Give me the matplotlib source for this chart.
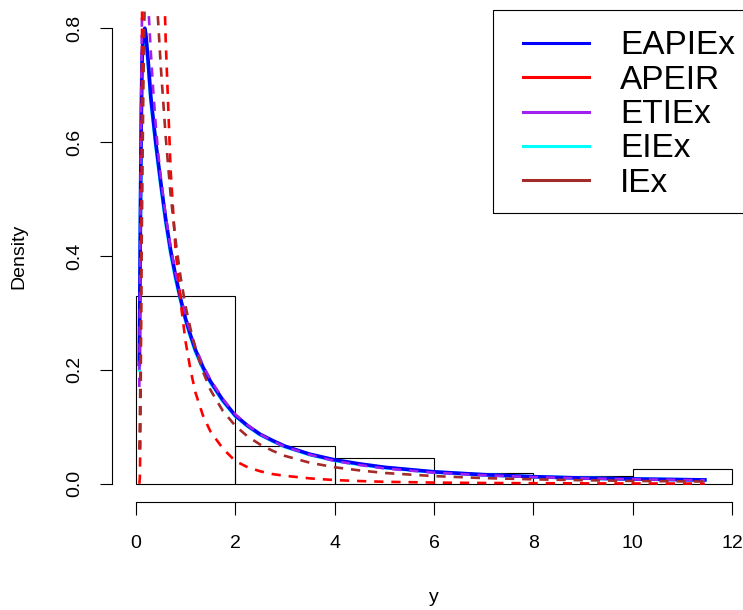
import numpy as np
import matplotlib
matplotlib.use("Agg")
import matplotlib.pyplot as plt
from matplotlib.lines import Line2D
from matplotlib.patches import Rectangle

plt.rcParams['font.family'] = ['Liberation Sans', 'DejaVu Sans']

# histogram of the sample (density scale)
bin_edges = [0, 2, 4, 6, 8, 10, 12]
bin_density = [0.329, 0.0658, 0.0461, 0.0197, 0.0132, 0.0263]

# fitted densities evaluated on a common grid
grid = [0.07, 0.08, 0.09, 0.1, 0.11, 0.12, 0.13, 0.15, 0.18, 0.2, 0.22, 0.25, 0.3,
        0.35, 0.4, 0.45, 0.5, 0.6, 0.7, 0.8, 0.9, 1.0, 1.1, 1.2, 1.35, 1.5, 1.75,
        2.0, 2.25, 2.5, 2.75, 3.0, 3.5, 4.0, 4.5, 5.0, 6.0, 7.0, 8.0, 9.0, 10.0, 11.45]
eapiex = [0.21, 0.33, 0.45, 0.56, 0.65, 0.72, 0.76, 0.79, 0.80, 0.79, 0.77, 0.74, 0.68,
          0.64, 0.60, 0.565, 0.53, 0.465, 0.41, 0.365, 0.325, 0.29, 0.261, 0.235, 0.205,
          0.18, 0.147, 0.12, 0.102, 0.087, 0.076, 0.066, 0.052, 0.042, 0.035, 0.029,
          0.021, 0.016, 0.0125, 0.010, 0.0085, 0.0068]
apeir = [0.0, 0.01, 0.07, 0.2, 0.4, 0.65, 0.95, 1.5, 2.1, 2.4, 2.55, 2.6, 2.3,
         1.95, 1.6, 1.33, 1.1, 0.78, 0.55, 0.41, 0.32, 0.25, 0.20, 0.16, 0.12,
         0.092, 0.062, 0.040, 0.029, 0.022, 0.017, 0.014, 0.0095, 0.0065, 0.0048, 0.0035,
         0.0021, 0.0014, 0.0010, 0.0007, 0.0005, 0.0004]
etiex = [0.17, 0.30, 0.44, 0.58, 0.70, 0.80, 0.86, 0.91, 0.93, 0.91, 0.88, 0.84, 0.76,
         0.69, 0.63, 0.58, 0.54, 0.47, 0.415, 0.37, 0.33, 0.295, 0.266, 0.24, 0.208,
         0.183, 0.149, 0.122, 0.103, 0.087, 0.075, 0.065, 0.051, 0.040, 0.033, 0.027,
         0.0195, 0.015, 0.0117, 0.0094, 0.0078, 0.0062]
eiex = [0.20, 0.32, 0.44, 0.55, 0.64, 0.71, 0.75, 0.78, 0.79, 0.785, 0.765, 0.735, 0.675,
        0.635, 0.595, 0.56, 0.525, 0.46, 0.405, 0.36, 0.322, 0.287, 0.258, 0.232, 0.202,
        0.178, 0.145, 0.119, 0.101, 0.086, 0.075, 0.065, 0.051, 0.041, 0.034, 0.0285,
        0.0205, 0.0157, 0.0123, 0.0099, 0.0084, 0.0067]
iex = [0.06, 0.11, 0.18, 0.26, 0.35, 0.44, 0.52, 0.69, 0.86, 0.94, 0.98, 1.02, 1.0,
       0.95, 0.88, 0.81, 0.735, 0.61, 0.507, 0.427, 0.363, 0.312, 0.272, 0.237, 0.197,
       0.165, 0.128, 0.102, 0.083, 0.069, 0.058, 0.049, 0.037, 0.029, 0.0235, 0.019,
       0.0135, 0.010, 0.0078, 0.0062, 0.005, 0.0039]

names = ['EAPIEx', 'APEIR', 'ETIEx', 'EIEx', 'IEx']
colors = ['#0000FF', '#FF0000', '#A020F0', '#00FFFF', '#A52A2A']

W, H = 743, 610
fig = plt.figure(figsize=(W / 100, H / 100), dpi=100)
ax = fig.add_axes([112 / W, 108 / H, 644 / W, 492 / H])

ax.bar(bin_edges[:-1], bin_density, width=np.diff(bin_edges), align='edge',
       fill=False, edgecolor='black', linewidth=0.8)

dash = (3.5, 3)
ax.plot(grid, eiex, color=colors[3], lw=2.6)
ax.plot(grid, eapiex, color=colors[0], lw=2.6)
ax.plot(grid, etiex, color=colors[2], lw=1.9, dashes=dash)
ax.plot(grid, apeir, color=colors[1], lw=1.9, dashes=dash)
ax.plot(grid, iex, color=colors[4], lw=1.9, dashes=dash)

ax.set_xlim(-0.48, 12.48)
ax.set_ylim(-0.032, 0.832)
for s in ['top', 'right']:
    ax.spines[s].set_visible(False)
ax.spines['left'].set_bounds(0, 0.8)
ax.spines['bottom'].set_bounds(0, 12)
for s in ['left', 'bottom']:
    ax.spines[s].set_linewidth(0.8)

ax.set_xticks(range(0, 13, 2))
ax.set_yticks([0, 0.2, 0.4, 0.6, 0.8])
ax.set_yticklabels(['0.0', '0.2', '0.4', '0.6', '0.8'], rotation=90, va='center')
ax.tick_params(direction='out', length=9, width=0.8, labelsize=14)
ax.tick_params(axis='x', pad=15)
ax.tick_params(axis='y', pad=12)

fig.text(19 / W, 1 - 256 / H, 'Density', rotation=90, ha='center', va='center', fontsize=14)
fig.text(434 / W, 1 - 597 / H, 'y', ha='center', va='center', fontsize=14)

# legend box in the top right corner
def fx(px):
    return px / W

def fy(py):
    return 1 - py / H

fig.add_artist(Rectangle((fx(493), fy(213)), fx(760) - fx(493), fy(10) - fy(213),
                         transform=fig.transFigure, fill=False, edgecolor='black', lw=0.8))
for i, (name, c) in enumerate(zip(names, colors)):
    yc = 43 + 34.3 * i
    fig.add_artist(Line2D([fx(523), fx(589)], [fy(yc), fy(yc)],
                          transform=fig.transFigure, color=c, lw=2.2))
    fig.text(fx(620), fy(yc + 11.5), name, fontsize=24, va='baseline', ha='left')

fig.savefig('out.png', dpi=100)
